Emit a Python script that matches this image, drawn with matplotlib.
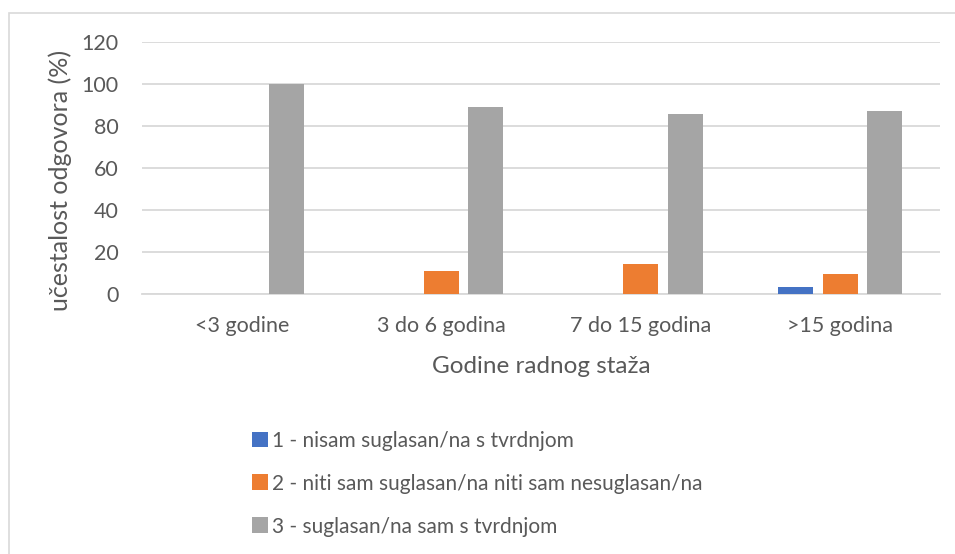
import numpy as np
import matplotlib
matplotlib.use("Agg")
import matplotlib.pyplot as plt
from matplotlib.patches import Rectangle

plt.rcParams['font.family'] = ['Lato', 'DejaVu Sans']

kategorije = ['<3 godine', '3 do 6 godina', '7 do 15 godina', '>15 godina']
nesuglasan = [0, 0, 0, 3.5]
niti = [0, 11.1, 14.3, 9.5]
suglasan = [100, 88.9, 85.7, 87.0]
serije = ['1 - nisam suglasan/na s tvrdnjom',
          '2 - niti sam suglasan/na niti sam nesuglasan/na',
          '3 - suglasan/na sam s tvrdnjom']
boje = ['#4472C4', '#ED7D31', '#A5A5A5']
siva = '#595959'

fig = plt.figure(figsize=(9.55, 5.54), dpi=100)
ax = fig.add_axes([142/955, 1-294/554, (940-142)/955, 252/554])

x = np.arange(len(kategorije))
sirina = 0.175
korak = 0.2225
for i, (vrij, ime, boja) in enumerate(zip([nesuglasan, niti, suglasan], serije, boje)):
    ax.bar(x + (i-1)*korak, vrij, sirina, color=boja, label=ime, zorder=3)

ax.set_xlim(-0.5, len(kategorije)-0.5)
ax.set_ylim(0, 120)
ax.set_yticks(range(0, 121, 20))
ax.set_xticks(x)
ax.set_xticklabels(kategorije)
ax.grid(axis='y', color='#D9D9D9', linewidth=1.3, zorder=0)
for s in ['top', 'right', 'left']:
    ax.spines[s].set_visible(False)
ax.spines['bottom'].set_color('#D9D9D9')
ax.spines['bottom'].set_linewidth(1.3)
ax.tick_params(axis='both', length=0, labelsize=15.5, colors=siva)
ax.tick_params(axis='x', pad=16)
ax.tick_params(axis='y', pad=17)
ax.set_ylabel('učestalost odgovora (%)', fontsize=18, color=siva)
ax.yaxis.set_label_coords(-0.088, 0.452)
ax.set_xlabel('Godine radnog staža', fontsize=17.5, color=siva, labelpad=14)

fig.legend(loc='upper left', bbox_to_anchor=(233/955, 1-412/554), frameon=False,
           fontsize=15, labelcolor=siva, handlelength=0.8, handleheight=0.8,
           handletextpad=0.15, labelspacing=1.1)

fig.patches.append(Rectangle((8.5/955, -0.1), 1.2, 1-12.5/554+0.1, transform=fig.transFigure,
                             fill=False, edgecolor='#D9D9D9', linewidth=1.2))

fig.savefig('out.png', dpi=100)
